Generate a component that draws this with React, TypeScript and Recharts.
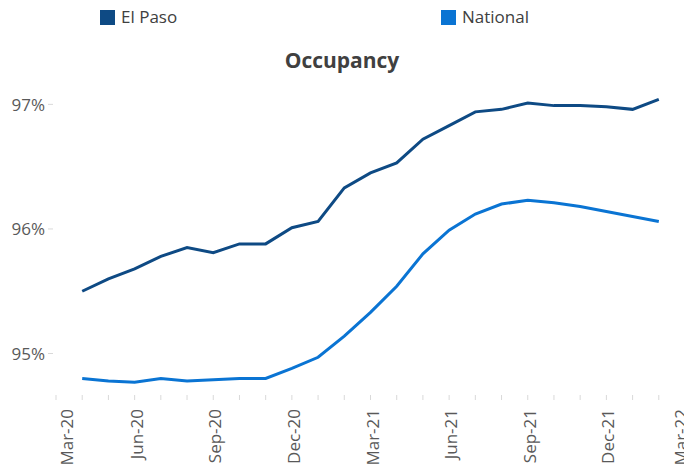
import { LineChart, Line, XAxis, YAxis } from "recharts";

const C_EL_PASO = "#0e4a84";
const C_NATIONAL = "#0a74d3";
const C_LABEL = "#595959";
const C_TICK = "#d9d9d9";
const FONT = "'Open Sans', sans-serif";

const months = [
  "Mar-20", "Apr-20", "May-20", "Jun-20", "Jul-20", "Aug-20", "Sep-20",
  "Oct-20", "Nov-20", "Dec-20", "Jan-21", "Feb-21", "Mar-21", "Apr-21",
  "May-21", "Jun-21", "Jul-21", "Aug-21", "Sep-21", "Oct-21", "Nov-21",
  "Dec-21", "Jan-22", "Feb-22", "Mar-22",
];

const elPaso = [
  null, 95.5, 95.6, 95.68, 95.78, 95.85, 95.81, 95.88, 95.88, 96.01, 96.06,
  96.33, 96.45, 96.53, 96.72, 96.83, 96.94, 96.96, 97.01, 96.99, 96.99,
  96.98, 96.96, 97.04, null,
];

const national = [
  null, 94.8, 94.78, 94.77, 94.8, 94.78, 94.79, 94.8, 94.8, 94.88, 94.97,
  95.14, 95.33, 95.54, 95.8, 95.99, 96.12, 96.2, 96.23, 96.21, 96.18,
  96.14, 96.1, 96.06, null,
];

const yTicks = [95, 96, 97];

const series = [
  { key: "elPaso", name: "El Paso", color: C_EL_PASO, left: 100 },
  { key: "national", name: "National", color: C_NATIONAL, left: 441 },
];

const data = months.map((m, i) => ({
  month: m,
  elPaso: elPaso[i],
  national: national[i],
}));

function MonthTick({ x, y, index, payload }: any) {
  const showLabel = index % 3 === 0;
  // excel nudges the first/last label inside the plot
  let shift = 1.5;
  if (index === 0) shift = 10;
  if (index === months.length - 1) shift = -5;
  return (
    <g>
      <line x1={x} x2={x} y1={y - 3} y2={y + 2} stroke={C_TICK} strokeWidth={1} />
      {showLabel && (
        <text
          transform={`translate(${x + shift},${y + 11}) rotate(-90)`}
          textAnchor="end"
          dominantBaseline="central"
          fill={C_LABEL}
          fontSize={17}
          fontFamily={FONT}
        >
          {payload.value}
        </text>
      )}
    </g>
  );
}

function PctTick({ x, y, payload }: any) {
  return (
    <g>
      <line x1={x - 8} x2={x - 3} y1={y} y2={y} stroke={C_TICK} strokeWidth={1} />
      <text
        x={x - 11}
        y={y}
        textAnchor="end"
        dominantBaseline="central"
        fill={C_LABEL}
        fontSize={17}
        fontFamily={FONT}
      >
        {`${payload.value}%`}
      </text>
    </g>
  );
}

export default function App() {
  return (
    <div
      style={{
        position: "relative",
        width: 684,
        height: 469,
        overflow: "hidden",
        background: "#ffffff",
        fontFamily: FONT,
      }}
    >
      <style>{`body{margin:0}`}</style>
      {series.map((s) => (
        <div
          key={s.key}
          style={{
            position: "absolute",
            left: s.left,
            top: 5,
            display: "flex",
            alignItems: "center",
            fontSize: 17,
            color: "#404040",
            lineHeight: "24px",
          }}
        >
          <span
            style={{
              display: "inline-block",
              width: 15,
              height: 15,
              background: s.color,
              marginRight: 6,
            }}
          />
          {s.name}
        </div>
      ))}
      <div
        style={{
          position: "absolute",
          left: 0,
          top: 46,
          width: 684,
          textAlign: "center",
          fontSize: 21,
          fontWeight: 700,
          color: "#404040",
          lineHeight: "28px",
        }}
      >
        Occupancy
      </div>
      <LineChart
        width={686}
        height={469}
        data={data}
        margin={{ top: 67, right: 1, left: 0, bottom: 0 }}
      >
        <XAxis
          dataKey="month"
          interval={0}
          height={71}
          axisLine={false}
          tickLine={false}
          tickSize={0}
          tickMargin={0}
          tick={<MonthTick />}
        />
        <YAxis
          width={56}
          domain={[94.643, 97.3]}
          ticks={yTicks}
          allowDataOverflow
          axisLine={false}
          tickLine={false}
          tickSize={0}
          tickMargin={0}
          tick={<PctTick />}
        />
        {series.map((s) => (
          <Line
            key={s.key}
            type="linear"
            dataKey={s.key}
            name={s.name}
            stroke={s.color}
            strokeWidth={3}
            dot={false}
            isAnimationActive={false}
          />
        ))}
      </LineChart>
    </div>
  );
}
